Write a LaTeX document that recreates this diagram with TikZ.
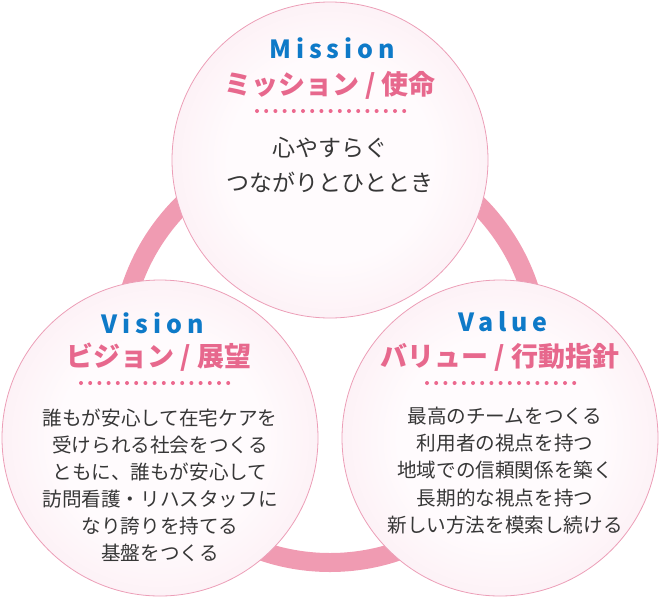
\documentclass[tikz,border=0pt]{standalone}
\usepackage{fontspec}
\setmainfont{Noto Sans CJK JP}
\newfontfamily\enfont[LetterSpace=20]{Noto Sans CJK JP}
\usetikzlibrary{positioning}

\definecolor{ringpink}{RGB}{240,155,178}
\definecolor{edgepink}{RGB}{236,158,183}
\definecolor{titlepink}{RGB}{231,104,141}
\definecolor{dotpink}{RGB}{236,104,142}
\definecolor{titleblue}{RGB}{14,122,200}
\definecolor{bodygray}{RGB}{55,55,55}
\definecolor{bubA}{RGB}{255,251,253}
\definecolor{bubB}{RGB}{252,236,242}
\definecolor{bubC}{RGB}{247,207,220}
\definecolor{bubD}{RGB}{242,182,201}

\pgfdeclareradialshading{bubble}{\pgfpoint{0bp}{0bp}}{%
  color(0bp)=(bubA); color(16bp)=(bubA); color(31bp)=(bubB); color(43bp)=(bubC); color(50bp)=(bubD)}

\tikzset{
  bubble/.style={circle, inner sep=0pt, minimum size=316pt, shading=bubble,
    draw=edgepink, line width=0.8pt},
  entitle/.style={font=\enfont\bfseries\fontsize{25}{25}\selectfont, text=titleblue},
  jptitle/.style={font=\bfseries\fontsize{27}{27}\selectfont, text=titlepink},
  dotline/.style={dotpink, line width=4pt, line cap=round, dash pattern=on 0pt off 9.2pt},
  bodytext/.style={align=center, text=bodygray}
}

\begin{document}
\begin{tikzpicture}[x=1pt,y=-1pt]

% Define parameters
\def\r{158}
\def\ringr{209.5}
\def\ringw{19}

\useasboundingbox (0,0) rectangle (660,600);

% ===== RING BEHIND =====
\draw[ringpink, line width=\ringw pt] (330,353) circle (\ringr);

% ===== THREE BUBBLES =====
\node[bubble] (vision) at (160,438) {};
\node[bubble] (value) at (500,438) {};
\node[bubble] (mission) at (330,160) {};

% ===== MISSION =====
\node[entitle] (missionEn) at (332,48) {Mission};
\node[jptitle] (missionJp) at (330,85) {ミッション / 使命};
\draw[dotline] (257,111) -- (404.4,111);
\node[bodytext, font=\fontsize{23}{35}\selectfont] (missionText) at (330,164.5)
  {心やすらぐ\\つながりとひととき};

% ===== VISION =====
\node[entitle] (visionEn) at (153,323) {Vision};
\node[jptitle] (visionJp) at (159,357) {ビジョン / 展望};
\draw[dotline] (81,383) -- (228.4,383);
\node[bodytext, font=\fontsize{19.6}{27}\selectfont] (visionText) at (160,485.5)
  {誰もが安心して在宅ケアを\\受けられる社会をつくる\\ともに、誰もが安心して\\訪問看護・リハスタッフに\\なり誇りを持てる\\基盤をつくる};

% ===== VALUE =====
\node[entitle] (valueEn) at (503,322) {Value};
\node[jptitle] (valueJp) at (500,357) {バリュー / 行動指針};
\draw[dotline] (427,383) -- (574.4,383);
\node[bodytext, font=\fontsize{19.6}{27.25}\selectfont] (valueText) at (505,470.5)
  {最高のチームをつくる\\利用者の視点を持つ\\地域での信頼関係を築く\\長期的な視点を持つ\\新しい方法を模索し続ける};

\end{tikzpicture}
\end{document}
